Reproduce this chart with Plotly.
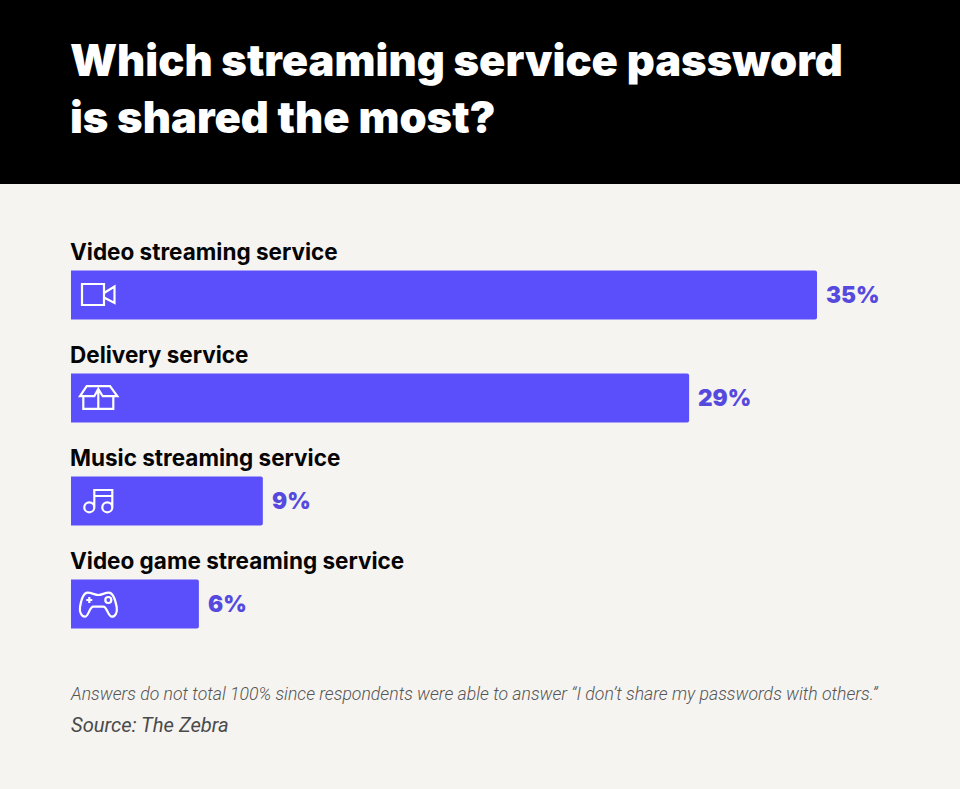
import plotly.graph_objects as go

# data
categories = ['Video streaming service', 'Delivery service', 'Music streaming service', 'Video game streaming service']
shares = [35, 29, 9, 6]
value_labels = ['35%', '29%', '9%', '6%']

title_text = 'Which streaming service password<br>is shared the most?'
note_text = 'Answers do not total 100% since respondents were able to answer “I don’t share my passwords with others.”'
source_text = 'Source: The Zebra'

W, H = 960, 789
BAR = '#5a4ffb'
LABEL = '#5549de'
BG = '#f6f4f1'

# px per percentage point, and px between bar centres
px_x = 746 / 35
px_y = 103
x0_px = 71
y0_px = 295


def flip(cmds):
    # icon paths are drawn y-down, plotly pixel shapes are y-up
    out = []
    for c in cmds:
        if len(c) == 1:
            out.append(c[0])
        else:
            nums = list(c[1:])
            pairs = ' '.join(f'{nums[i]},{-nums[i + 1]}' for i in range(0, len(nums), 2))
            out.append(f'{c[0]} {pairs}')
    return ' '.join(out)


def ring(cx, cy, r):
    k = r * 0.552
    return [('M', cx - r, cy),
            ('C', cx - r, cy - k, cx - k, cy - r, cx, cy - r),
            ('C', cx + k, cy - r, cx + r, cy - k, cx + r, cy),
            ('C', cx + r, cy + k, cx + k, cy + r, cx, cy + r),
            ('C', cx - k, cy + r, cx - r, cy + k, cx - r, cy),
            ('Z',)]


camera = [('M', 11, -11), ('L', 33, -11), ('L', 33, 10), ('L', 11, 10), ('Z',),
          ('M', 33, -2), ('L', 43.5, -8.5), ('L', 43.5, 8), ('L', 33, 2.5)]
box = [('M', 15.7, -11.8), ('L', 39, -11.8), ('L', 46.3, -1.8), ('L', 31.7, -1.8), ('L', 27.3, -9),
       ('L', 23.3, -1.8), ('L', 9, -1.8), ('Z',),
       ('M', 12.3, -1.8), ('L', 12.3, 10.8), ('L', 42.3, 10.8), ('L', 42.3, -1.8),
       ('M', 27.3, -9), ('L', 27.3, 10.8)]
music = ring(18.3, 6.3, 5) + ring(36.3, 6.3, 5) + [
    ('M', 23.3, 6.3), ('L', 23.3, -11), ('L', 41.3, -11), ('L', 41.3, 6.3),
    ('M', 23.3, -5), ('L', 41.3, -5)]
gamepad = [('M', 16.5, -11.3), ('C', 20, -11.5, 24, -9, 27.3, -9), ('C', 31, -9, 34, -11.5, 38, -11.3),
           ('C', 42, -11, 44, -6, 45.7, 3), ('C', 46.5, 8, 44.5, 12.7, 41, 12.7),
           ('C', 37, 12.7, 36, 2.7, 32.3, 2.7), ('L', 22.3, 2.7),
           ('C', 18.5, 2.7, 17.5, 12.7, 14, 12.7), ('C', 10.5, 12.7, 8.3, 8, 9, 3),
           ('C', 10.5, -6, 12.5, -11, 16.5, -11.3), ('Z',),
           ('M', 18.3, -7), ('L', 18.3, -1), ('M', 15.3, -4), ('L', 21.3, -4)] + ring(37.3, -4, 3)
icons = [camera, box, music, gamepad]

fig = go.Figure(go.Bar(
    x=shares,
    y=categories,
    orientation='h',
    width=49 / px_y,
    marker=dict(color=BAR, cornerradius=2, line_width=0),
    cliponaxis=False,
    hoverinfo='skip',
))

# black header band
fig.add_shape(type='rect', xref='paper', yref='paper', x0=0, x1=1, y0=1 - 184 / H, y1=1,
              fillcolor='#000000', line_width=0, layer='below')

for cat, share, lab, icon in zip(categories, shares, value_labels, icons):
    fig.add_shape(type='path', path=flip(icon), xsizemode='pixel', ysizemode='pixel',
                  xref='x', yref='y', xanchor=0, yanchor=cat,
                  line=dict(color='white', width=2.2), fillcolor='rgba(0,0,0,0)')
    fig.add_annotation(text=cat, x=0, y=cat, xref='x', yref='y', xanchor='left', yanchor='middle',
                       xshift=-3, yshift=44, showarrow=False, align='left',
                       font=dict(family='Inter', size=22.5, color='#050505', weight=700))
    # outside bar text sits too close in plotly, so the gap is set here
    fig.add_annotation(text=lab, x=share, y=cat, xref='x', yref='y', xanchor='left', yanchor='middle',
                       xshift=7, yshift=1, showarrow=False,
                       font=dict(family='Inter', size=22.5, color=LABEL, weight=900))

fig.add_annotation(text=title_text, xref='paper', yref='paper', x=71 / W, y=1 - 88 / H,
                   xanchor='left', yanchor='middle', align='left', xshift=-3, showarrow=False,
                   font=dict(family='Inter', size=43.5, color='white', weight=900))
fig.add_annotation(text=f'<i>{note_text}</i>', xref='paper', yref='paper', x=71 / W, y=1 - 694 / H,
                   xanchor='left', yanchor='middle', xshift=-3, showarrow=False,
                   font=dict(family='Roboto', size=17.65, color='#555555', weight=300))
fig.add_annotation(text=f'<i>{source_text}</i>', xref='paper', yref='paper', x=71 / W, y=1 - 725 / H,
                   xanchor='left', yanchor='middle', xshift=-2, showarrow=False,
                   font=dict(family='Roboto', size=20.2, color='#4a4a4a', weight=400))

fig.update_layout(
    width=W, height=H,
    margin=dict(l=0, r=0, t=0, b=0),
    paper_bgcolor=BG,
    plot_bgcolor=BG,
    showlegend=False,
    xaxis=dict(visible=False, range=[-x0_px / px_x, (W - x0_px) / px_x]),
    yaxis=dict(visible=False, type='category', categoryorder='array', categoryarray=categories,
               range=[(H - y0_px) / px_y, -y0_px / px_y]),
)

# the browser's default body margin would leave a white frame around the chart
fig.write_html("out.html", config={'displayModeBar': False},
               post_script="document.body.style.margin = '0'; document.body.style.overflow = 'hidden';")
